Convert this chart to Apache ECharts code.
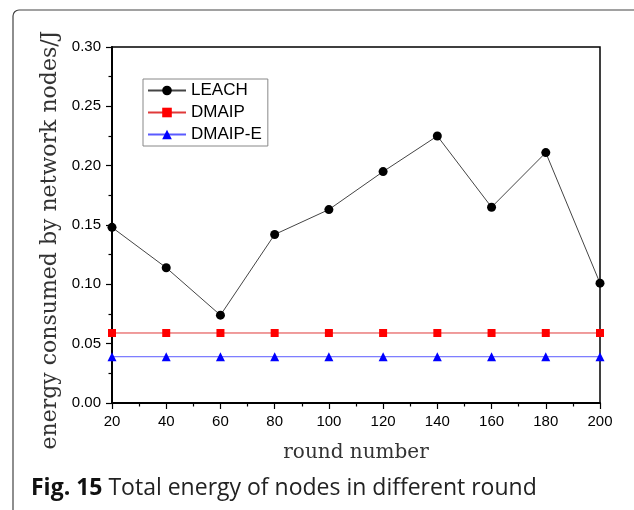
<!DOCTYPE html>
<html>
<head>
<meta charset="utf-8">
<script src="https://cdn.jsdelivr.net/npm/echarts@6/dist/echarts.min.js"></script>
<style>
    html, body { margin: 0; padding: 0; background: #fff; }
    #chart { width: 634px; height: 510px; }
</style>
</head>
<body>
<div id="chart"></div>
<script>
var rounds = [20, 40, 60, 80, 100, 120, 140, 160, 180, 200];
var leach = [0.148, 0.114, 0.074, 0.142, 0.163, 0.195, 0.225, 0.165, 0.211, 0.101];
var dmaip = [0.059, 0.059, 0.059, 0.059, 0.059, 0.059, 0.059, 0.059, 0.059, 0.059];
var dmaipE = [0.039, 0.039, 0.039, 0.039, 0.039, 0.039, 0.039, 0.039, 0.039, 0.039];

function pairs(xs, ys) {
    var out = [];
    for (var i = 0; i < xs.length; i++) {
        out.push([xs[i], ys[i]]);
    }
    return out;
}

var myChart = echarts.init(document.getElementById('chart'));

var option = {
    animation: false,
    grid: {
        left: 112,
        right: 34,
        top: 47,
        bottom: 107,
        show: true,
        borderColor: '#000',
        borderWidth: 1.5
    },
    legend: {
        left: 143,
        top: 79,
        orient: 'vertical',
        padding: [3, 6, 3, 4],
        itemWidth: 38,
        itemHeight: 12,
        itemGap: 5,
        borderColor: '#888',
        borderWidth: 1,
        textStyle: {
            fontFamily: 'Liberation Sans',
            fontSize: 17,
            color: '#000'
        },
        data: ['LEACH', 'DMAIP', 'DMAIP-E']
    },
    xAxis: {
        type: 'value',
        min: 20,
        max: 200,
        interval: 20,
        name: 'round number',
        nameLocation: 'middle',
        nameGap: 40,
        nameTextStyle: {
            fontFamily: 'DejaVu Serif',
            fontSize: 20,
            color: '#333'
        },
        axisLine: { lineStyle: { color: '#000', width: 2 } },
        axisTick: { length: 6, lineStyle: { color: '#000', width: 1.2 } },
        minorTick: { show: true, splitNumber: 2, length: 3.5, lineStyle: { color: '#000', width: 1.2 } },
        splitLine: { show: false },
        axisLabel: {
            margin: 11,
            fontFamily: 'Liberation Sans',
            fontSize: 15,
            color: '#000'
        }
    },
    yAxis: {
        type: 'value',
        min: 0,
        max: 0.3,
        interval: 0.05,
        axisLine: { show: true, lineStyle: { color: '#000', width: 2 } },
        axisTick: { show: true, length: 6, lineStyle: { color: '#000', width: 1.2 } },
        minorTick: { show: true, splitNumber: 2, length: 3.5, lineStyle: { color: '#000', width: 1.2 } },
        splitLine: { show: false },
        axisLabel: {
            margin: 11,
            fontFamily: 'Liberation Sans',
            fontSize: 15,
            color: '#000',
            formatter: function (v) { return v.toFixed(2); }
        }
    },
    graphic: [
        {
            type: 'rect',
            shape: { x: 13, y: 10, width: 700, height: 600, r: 6 },
            style: { fill: 'none', stroke: '#444', lineWidth: 1.2 },
            silent: true
        },
        {
            type: 'text',
            x: 50,
            y: 240,
            rotation: Math.PI / 2,
            style: {
                text: 'energy consumed by network nodes/J',
                fontFamily: 'DejaVu Serif',
                fontSize: 22,
                fill: '#333',
                align: 'center',
                verticalAlign: 'middle'
            }
        },
        {
            type: 'text',
            x: 31,
            y: 488,
            style: {
                text: '{b|Fig. 15} Total energy of nodes in different round',
                fontFamily: 'Open Sans',
                fontSize: 23,
                fill: '#222',
                verticalAlign: 'middle',
                rich: {
                    b: { fontFamily: 'Open Sans', fontSize: 23, fontWeight: 'bold', fill: '#111' }
                }
            }
        }
    ],
    series: [
        {
            name: 'LEACH',
            type: 'line',
            data: pairs(rounds, leach),
            symbol: 'circle',
            symbolSize: 9,
            itemStyle: { color: '#000' },
            lineStyle: { color: '#444', width: 1 }
        },
        {
            name: 'DMAIP',
            type: 'line',
            data: pairs(rounds, dmaip),
            symbol: 'rect',
            symbolSize: 8,
            itemStyle: { color: '#ff0000' },
            lineStyle: { color: '#e03a3a', width: 1 }
        },
        {
            name: 'DMAIP-E',
            type: 'line',
            data: pairs(rounds, dmaipE),
            symbol: 'triangle',
            symbolSize: 9,
            itemStyle: { color: '#0000ff' },
            lineStyle: { color: '#5a5aff', width: 1 }
        }
    ]
};

myChart.setOption(option);
</script>
</body>
</html>
